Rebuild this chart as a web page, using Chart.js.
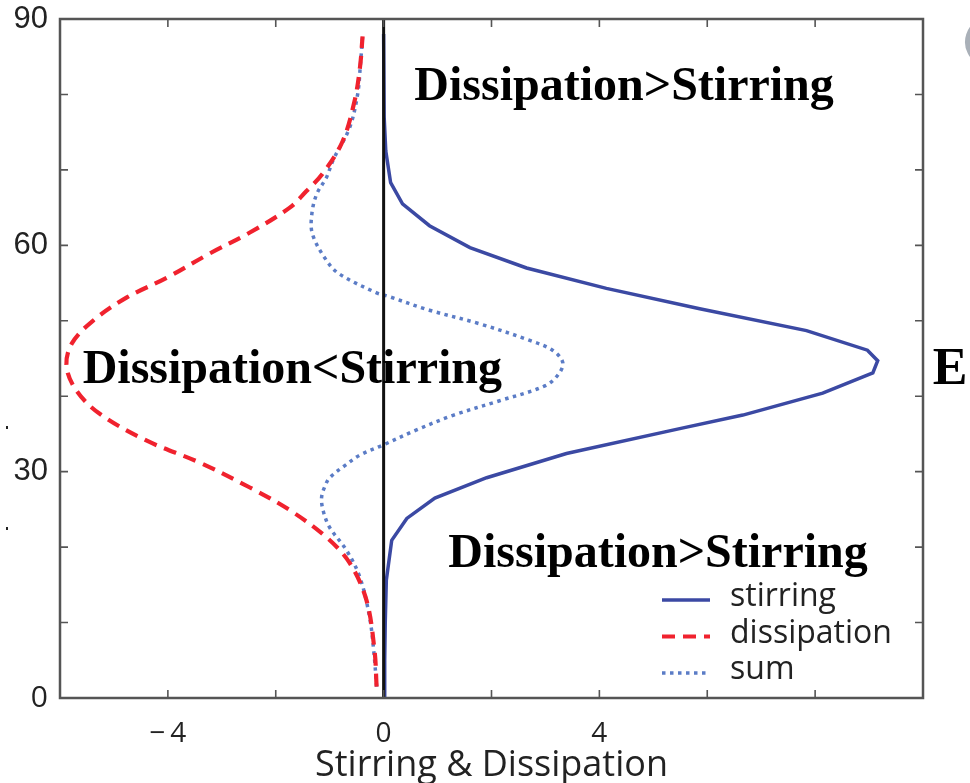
<!DOCTYPE html>
<html>
<head>
<meta charset="utf-8">
<script src="https://cdn.jsdelivr.net/npm/chart.js@4.4.1/dist/chart.umd.min.js"></script>
<style>
  html, body { margin: 0; padding: 0; background: #fff; }
  #wrap { width: 970px; height: 783px; position: relative; }
</style>
</head>
<body>
<div id="wrap"><canvas id="c" width="970" height="783"></canvas></div>
<script>
// Vertical profiles: depth level (y) against rate (x)
const stirringDepth = [0, 5, 10, 15.6, 20.9, 23.8, 26.5, 29.2, 32.4, 35.7, 37.5, 40.4, 43.1, 44.7, 46.1, 48.7, 51.6, 54.3, 57.0, 59.7, 62.6, 65.5, 68.3, 72.5, 77, 88];
const stirringRate  = [0.02, 0.02, 0.03, 0.05, 0.15, 0.43, 0.95, 1.91, 3.39, 5.49, 6.66, 8.14, 9.07, 9.16, 8.97, 7.84, 5.86, 4.13, 2.65, 1.6, 0.85, 0.35, 0.13, 0.04, 0.01, 0.0];

const dissipationDepth = [1.5, 6.4, 13.0, 17.9, 21.3, 24.9, 27.9, 31.2, 34.1, 37.7, 40.8, 44.0, 47.0, 50.0, 53.1, 55.7, 58.9, 61.7, 65.0, 67.2, 69.5, 73.8, 79.1, 83.5, 87.7];
const dissipationRate  = [-0.13, -0.17, -0.32, -0.63, -1.06, -1.74, -2.48, -3.41, -4.39, -5.27, -5.70, -5.88, -5.78, -5.39, -4.76, -4.02, -3.23, -2.48, -1.74, -1.43, -1.13, -0.76, -0.54, -0.44, -0.39];

const sumDepth = [1.5, 6, 10.7, 16.0, 19.6, 22.6, 24.8, 26.6, 28.2, 29.2, 30.8, 32.2, 33.5, 35.5, 37.5, 39.4, 41.4, 43.0, 44.5, 46.1, 47.4, 49.6, 51.4, 53.3, 53.7, 56.2, 58.0, 61.5, 64.2, 66.8, 69.0, 71.4, 75.6, 80.1, 84, 87.7];
const sumRate  = [-0.13, -0.18, -0.26, -0.44, -0.69, -1.00, -1.12, -1.15, -1.08, -1.00, -0.72, -0.44, -0.02, 0.6, 1.3, 2.15, 3.0, 3.25, 3.32, 3.13, 2.71, 1.78, 0.85, 0.06, -0.13, -0.82, -1.06, -1.32, -1.33, -1.24, -1.06, -0.93, -0.63, -0.48, -0.43, -0.39];

const seriesNames = ['stirring', 'dissipation', 'sum'];

const xTickValues = [-4, 0, 4];
const xTickLabels = ['\u2212\u20094', '0', '4'];
const yTickValues = [0, 30, 60, 90];
const yTickLabels = ['0', '30', '60', '90'];

const regionNotes = ['Dissipation>Stirring', 'Dissipation<Stirring', 'Dissipation>Stirring', 'E'];

// Anchor of each note in data units (left edge, baseline)
const noteAnchors = [
  { x: 0.57, y: 79.3 },
  { x: -5.58, y: 41.8 },
  { x: 1.2, y: 17.4 },
  { x: 10.18, y: 41.6 }
];

const toPoints = (ys, xs) => ys.map((y, i) => ({ x: xs[i], y }));

const decor = {
  id: 'decor',
  afterDatasetsDraw(chart) {
    const { ctx, chartArea: a, scales: { x } } = chart;
    const x0 = x.getPixelForValue(0);
    ctx.save();
    ctx.strokeStyle = '#111';
    ctx.lineWidth = 3;
    ctx.beginPath();
    ctx.moveTo(x0, a.top);
    ctx.lineTo(x0, a.bottom);
    ctx.stroke();
    ctx.restore();
  },
  afterDraw(chart) {
    const { ctx, chartArea: a, scales: { x, y } } = chart;
    ctx.save();

    // axes box
    ctx.strokeStyle = '#555';
    ctx.lineWidth = 2.5;
    ctx.strokeRect(a.left, a.top, a.right - a.left, a.bottom - a.top);

    // inward tick marks
    ctx.lineWidth = 1.6;
    const tl = 8;
    for (let v = x.min; v <= x.max; v += 2) {
      const px = x.getPixelForValue(v);
      ctx.beginPath();
      ctx.moveTo(px, a.bottom); ctx.lineTo(px, a.bottom - tl);
      ctx.moveTo(px, a.top); ctx.lineTo(px, a.top + tl);
      ctx.stroke();
    }
    for (let v = y.min; v <= y.max; v += 10) {
      const py = y.getPixelForValue(v);
      ctx.beginPath();
      ctx.moveTo(a.left, py); ctx.lineTo(a.left + tl, py);
      ctx.moveTo(a.right, py); ctx.lineTo(a.right - tl, py);
      ctx.stroke();
    }

    // legend
    const lx = 662, lw = 48, ly0 = 600, step = 36.5;
    chart.data.datasets.forEach((ds, i) => {
      const ly = ly0 + i * step;
      ctx.save();
      ctx.strokeStyle = ds.borderColor;
      ctx.lineWidth = ds.borderWidth;
      ctx.setLineDash(ds.borderDash || []);
      ctx.beginPath();
      ctx.moveTo(lx, ly); ctx.lineTo(lx + lw, ly);
      ctx.stroke();
      ctx.restore();
      ctx.fillStyle = '#222';
      ctx.font = '32px "Open Sans"';
      ctx.textBaseline = 'middle';
      ctx.textAlign = 'left';
      ctx.fillText(ds.label, 730, ly - 3);
    });

    // region notes
    ctx.fillStyle = '#000';
    ctx.textBaseline = 'alphabetic';
    ctx.textAlign = 'left';
    regionNotes.forEach((t, i) => {
      ctx.font = (i === 3 ? 'bold 52px' : 'bold 48px') + ' "Liberation Serif"';
      const p = noteAnchors[i];
      ctx.fillText(t, x.getPixelForValue(p.x), y.getPixelForValue(p.y));
    });

    // stray marks along the page edges
    ctx.fillStyle = '#222';
    ctx.fillRect(6, 426, 2, 3);
    ctx.fillRect(6, 527, 2, 3);
    ctx.strokeStyle = '#a9b0b8';
    ctx.lineWidth = 6;
    ctx.beginPath();
    ctx.arc(990, 42, 22, Math.PI * 0.6, Math.PI * 1.4);
    ctx.stroke();

    ctx.restore();
  }
};

new Chart(document.getElementById('c'), {
  type: 'scatter',
  data: {
    datasets: [
      {
        label: seriesNames[0],
        data: toPoints(stirringDepth, stirringRate),
        showLine: true,
        borderColor: '#3b49a3',
        borderWidth: 3.5,
        pointRadius: 0,
        tension: 0
      },
      {
        label: seriesNames[1],
        data: toPoints(dissipationDepth, dissipationRate),
        showLine: true,
        borderColor: '#f0222e',
        borderWidth: 4.2,
        borderDash: [13, 8],
        pointRadius: 0,
        tension: 0.35
      },
      {
        label: seriesNames[2],
        data: toPoints(sumDepth, sumRate),
        showLine: true,
        borderColor: '#5b7cc6',
        borderWidth: 3.5,
        borderDash: [3.5, 4.5],
        pointRadius: 0,
        tension: 0.35
      }
    ]
  },
  options: {
    responsive: false,
    animation: false,
    devicePixelRatio: 1,
    layout: { padding: { top: 19, right: 47, left: 0, bottom: 0 } },
    plugins: { legend: { display: false }, tooltip: { enabled: false } },
    scales: {
      x: {
        type: 'linear',
        min: -6,
        max: 10,
        border: { display: false },
        grid: { display: false, drawTicks: false },
        afterBuildTicks: s => { s.ticks = xTickValues.map(v => ({ value: v })); },
        afterFit: s => { s.height = 85; s.paddingLeft = 0; s.paddingRight = 0; },
        ticks: {
          padding: 19,
          color: '#222',
          font: { family: 'Open Sans', size: 28 },
          callback: (v, i) => xTickLabels[i]
        },
        title: {
          display: true,
          text: 'Stirring & Dissipation',
          color: '#222',
          font: { family: 'Open Sans', size: 36, lineHeight: 0.94 },
          padding: { top: 0, bottom: 0 }
        }
      },
      y: {
        type: 'linear',
        min: 0,
        max: 90,
        border: { display: false },
        grid: { display: false, drawTicks: false },
        afterBuildTicks: s => { s.ticks = yTickValues.map(v => ({ value: v })); },
        afterFit: s => { s.width = 60; s.paddingTop = 0; s.paddingBottom = 0; },
        ticks: {
          padding: 12,
          color: '#222',
          font: ctx => (ctx.tick && ctx.tick.value === 0)
            ? { family: 'Open Sans', size: 30 }
            : { family: 'Liberation Sans', size: 31 },
          callback: (v, i) => yTickLabels[i]
        }
      }
    }
  },
  plugins: [decor]
});
</script>
</body>
</html>
